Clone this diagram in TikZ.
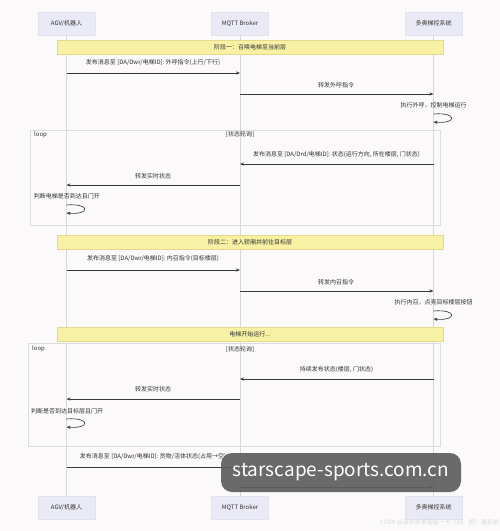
\documentclass[tikz,border=0pt]{standalone}
\usepackage{fontspec}
\setmainfont{Noto Sans CJK SC}
\usetikzlibrary{arrows.meta}
\definecolor{bgc}{HTML}{FBF9F9}
\definecolor{actf}{HTML}{EAEAF6}
\definecolor{actb}{HTML}{E2E2EE}
\definecolor{notef}{HTML}{F8F0A2}
\definecolor{noteb}{HTML}{E4DA8E}
\definecolor{lifec}{HTML}{D8D8D8}
\definecolor{arrc}{HTML}{3A3A3A}
\definecolor{txt}{HTML}{333333}
\definecolor{framec}{HTML}{DDDDDD}
\definecolor{wmc}{HTML}{5E5E5E}
\begin{document}
\begin{tikzpicture}[x=1pt,y=-1pt,
  font=\fontsize{6}{7}\selectfont, text=txt,
  actor/.style={draw=actb, fill=actf, minimum width=57pt, minimum height=23pt, inner sep=0},
  notebox/.style={draw=noteb, fill=notef, minimum width=386pt, minimum height=14pt, inner sep=0},
  life/.style={draw=lifec, line width=0.6pt},
  msg/.style={draw=arrc, line width=0.65pt, -{Stealth[length=4pt,width=3.2pt]}},
  lbl/.style={inner sep=0},
  loopframe/.style={draw=framec, line width=0.6pt}]
\fill[bgc] (0,0) rectangle (500,531);
\useasboundingbox (0,0) rectangle (500,531);

% actors
\node[actor] (ta) at (66.5,23.5) {AGV/机器人};
\node[actor] (tm) at (240,23.5) {MQTT Broker};
\node[actor] (td) at (433.5,23.5) {多奥梯控系统};
\node[actor] (ba) at (66.5,507.5) {AGV/机器人};
\node[actor] (bm) at (240,507.5) {MQTT Broker};
\node[actor] (bd) at (433.5,507.5) {多奥梯控系统};

% lifelines
\draw[life] (ta.south) -- (ba.north);
\draw[life] (tm.south) -- (bm.north);
\draw[life] (td.south) -- (bd.north);

% loop frames
\draw[loopframe] (30,130) rectangle (440,225);
\node[lbl, anchor=west] (l1) at (34,134.5) {loop};
\node[lbl] (l1c) at (240,134.5) {[状态轮询]};
\draw[loopframe] (28,343) rectangle (440,446);
\node[lbl, anchor=west] (l2) at (32,349) {loop};
\node[lbl] (l2c) at (240,349) {[状态轮询]};

% phase notes
\node[notebox] (n1) at (250,47) {阶段一：召唤电梯至当前层};
\node[notebox] (n2) at (250,242) {阶段二：进入轿厢并前往目标层};
\node[notebox] (n3) at (250,334) {电梯开始运行...};

% messages
\coordinate (a1) at (66.5,73); \coordinate (m1) at (240,73);
\node[lbl] (t1) at (153,63) {发布消息至 [DA/Dwr/电梯ID]: 外呼指令(上行/下行)};
\draw[msg] (a1) -- (m1);

\coordinate (m2) at (240,94); \coordinate (d2) at (433.5,94);
\node[lbl] (t2) at (336,85) {转发外呼指令};
\draw[msg] (m2) -- (d2);

\coordinate (d3a) at (433.5,114); \coordinate (d3b) at (433.5,122);
\node[lbl] (t3) at (433.5,105) {执行外呼，控制电梯运行};
\draw[msg] (d3a) .. controls +(24,-2) and +(24,2) .. (d3b);

\coordinate (d4) at (433.5,164); \coordinate (m4) at (240,164);
\node[lbl] (t4) at (336.5,155) {发布消息至 [DA/Drd/电梯ID]: 状态(运行方向, 所在楼层, 门状态)};
\draw[msg] (d4) -- (m4);

\coordinate (m5) at (240,185); \coordinate (a5) at (66.5,185);
\node[lbl] (t5) at (153,176) {转发实时状态};
\draw[msg] (m5) -- (a5);

\coordinate (a6a) at (66.5,205); \coordinate (a6b) at (66.5,213);
\node[lbl] (t6) at (67,196) {判断电梯是否到达且门开};
\draw[msg] (a6a) .. controls +(24,-2) and +(24,2) .. (a6b);

\coordinate (a7) at (66.5,270); \coordinate (m7) at (240,270);
\node[lbl] (t7) at (153,259) {发布消息至 [DA/Dwr/电梯ID]: 内召指令(目标楼层)};
\draw[msg] (a7) -- (m7);

\coordinate (m8) at (240,291); \coordinate (d8) at (433.5,291);
\node[lbl] (t8) at (336,282) {转发内召指令};
\draw[msg] (m8) -- (d8);

\coordinate (d9a) at (433.5,311); \coordinate (d9b) at (433.5,319);
\node[lbl] (t9) at (433.5,302) {执行内召，点亮目标楼层按钮};
\draw[msg] (d9a) .. controls +(24,-2) and +(24,2) .. (d9b);

\coordinate (d10) at (433.5,379); \coordinate (m10) at (240,379);
\node[lbl] (t10) at (336.5,370) {持续发布状态(楼层, 门状态)};
\draw[msg] (d10) -- (m10);

\coordinate (m11) at (240,399); \coordinate (a11) at (66.5,399);
\node[lbl] (t11) at (153,389) {转发实时状态};
\draw[msg] (m11) -- (a11);

\coordinate (a12a) at (66.5,419); \coordinate (a12b) at (66.5,427);
\node[lbl] (t12) at (67,411) {判断是否到达目标层且门开};
\draw[msg] (a12a) .. controls +(24,-2) and +(24,2) .. (a12b);

\coordinate (a13) at (66.5,467); \coordinate (m13) at (240,467);
\node[lbl] (t13) at (153,457) {发布消息至 [DA/Dwr/电梯ID]: 货物/活体状态(占用→空)};
\draw[msg] (a13) -- (m13);

\coordinate (m14) at (240,487); \coordinate (d14) at (433.5,487);
\draw[msg] (m14) -- (d14);

% watermarks
\node[fill=wmc, fill opacity=0.92, text opacity=1, text=white, rounded corners=11pt,
  minimum width=240pt, minimum height=39pt, inner sep=0,
  font=\fontsize{19}{22}\selectfont] (wm) at (341,472.5) {starscape-sports.com.cn};
\node[lbl, text=black!15, anchor=east, font=\fontsize{6}{7}\selectfont] (wm2) at (499,522) {CSDN @深圳多奥智能一卡（码、脸）通系统};
\end{tikzpicture}
\end{document}
